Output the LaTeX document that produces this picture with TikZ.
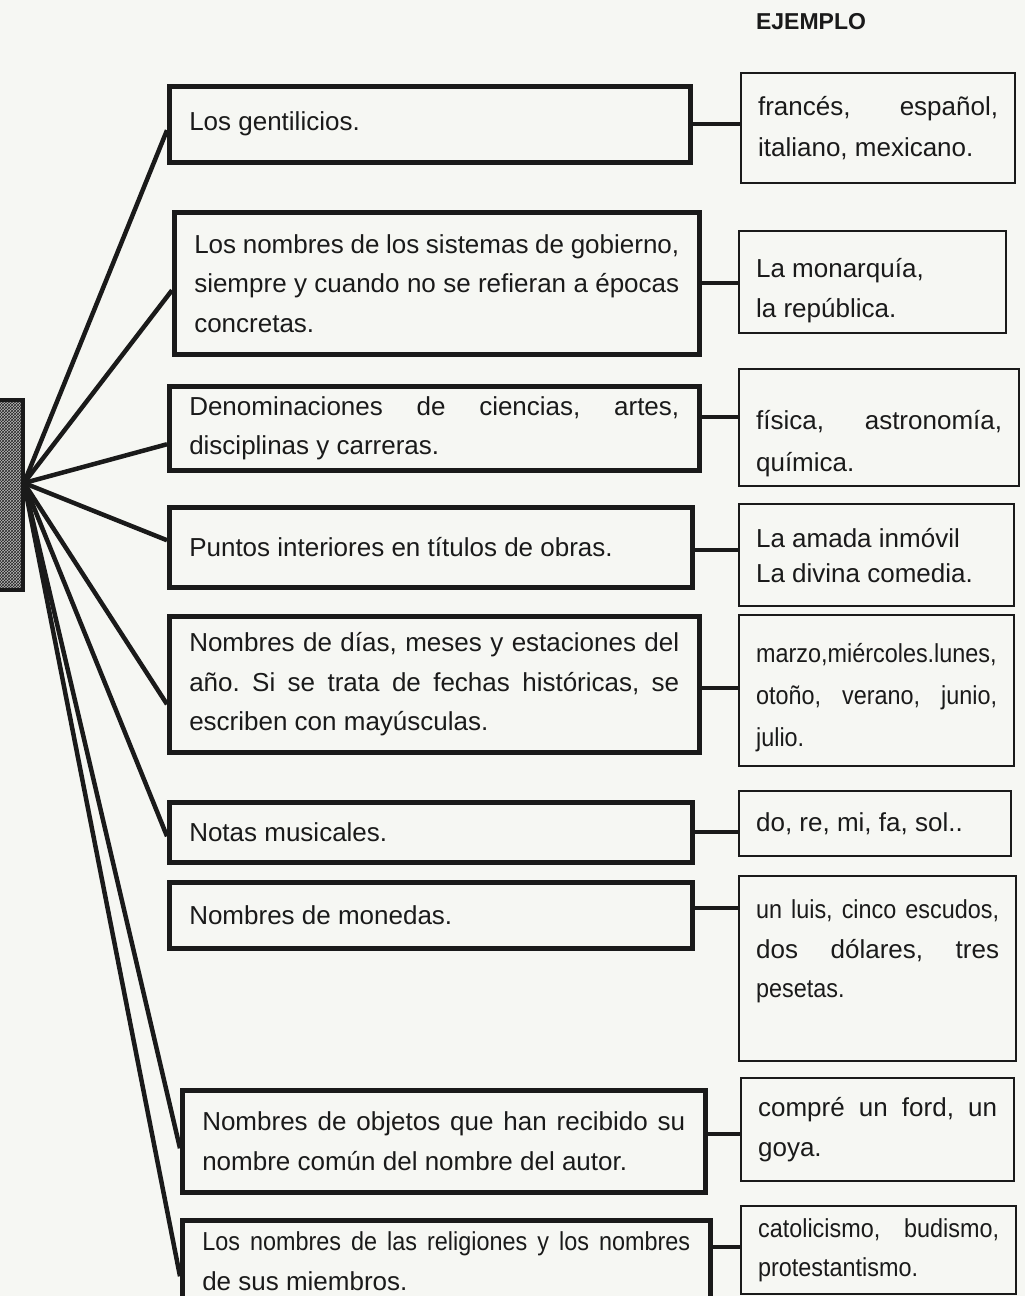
\documentclass[tikz,border=0pt]{standalone}
\usepackage{fontspec}
\setmainfont{Liberation Sans}
\newfontfamily\tightfont[FakeStretch=0.9]{Liberation Sans}
\usepackage{xcolor}
\usetikzlibrary{patterns}
\definecolor{paper}{RGB}{246,247,243}
\definecolor{ink}{RGB}{26,26,26}
\newcommand{\padtop}[1]{\rule{0pt}{#1}}
\frenchspacing

\begin{document}
\begin{tikzpicture}[
    x=1pt, y=-1pt,
    rulenode/.style={draw=ink, line width=4.5pt, anchor=north west, inner xsep=20pt, inner ysep=0pt, align=justify, text=ink, font=\fontsize{26}{39.5}\selectfont},
    exnode/.style={draw=ink, line width=2.2pt, anchor=north west, inner xsep=17pt, inner ysep=0pt, align=justify, text=ink, font=\fontsize{26}{39.5}\selectfont},
    spoke/.style={draw=ink, line width=4.5pt},
    linkline/.style={draw=ink, line width=4pt}
]
    \useasboundingbox (0,0) rectangle (1025,1296);
    \fill[paper] (0,0) rectangle (1025,1296);
    \clip (0,0) rectangle (1025,1296);

    \draw[ink, line width=4.5pt, preaction={fill=gray!55}, pattern=crosshatch, pattern color=gray!30!black] (-10,400) rectangle (23,590);
    \coordinate (hub) at (24,483);

    \node[font=\bfseries\fontsize{23}{23}\selectfont, text=ink] (ejemplo) at (811,22) {EJEMPLO};

    \node[rulenode, text width=481pt, minimum height=76pt] (l1) at (167,84) {Los gentilicios.};
    \node[rulenode, text width=485pt, minimum height=142pt] (l2) at (172,210) {Los nombres de los sistemas de gobierno,\linebreak siempre y cuando no se refieran a épocas\linebreak concretas.};
    \node[rulenode, text width=490pt, minimum height=84pt] (l3) at (167,384) {Denominaciones de ciencias, artes,\linebreak disciplinas y carreras.};
    \node[rulenode, text width=483pt, minimum height=80pt] (l4) at (167,505) {Puntos interiores en títulos de obras.};
    \node[rulenode, text width=490pt, minimum height=136pt] (l5) at (167,614) {Nombres de días, meses y estaciones del\linebreak año. Si se trata de fechas históricas, se\linebreak escriben con mayúsculas.};
    \node[rulenode, text width=483pt, minimum height=60pt] (l6) at (167,800) {Notas musicales.};
    \node[rulenode, text width=483pt, minimum height=66pt] (l7) at (167,880) {Nombres de monedas.};
    \node[rulenode, text width=483pt, minimum height=102pt] (l8) at (180,1088) {Nombres de objetos que han recibido su\linebreak nombre común del nombre del autor.};
    \node[rulenode, text width=488pt, minimum height=82pt] (l9) at (180,1218) {{\tightfont Los nombres de las religiones y los nombres}\linebreak de sus miembros.};

    \node[exnode, text width=240pt, minimum height=110pt, font=\fontsize{26}{41}\selectfont] (r1) at (740,72) {francés, español,\linebreak italiano, mexicano.};
    \node[exnode, text width=233pt, minimum height=102pt] (r2) at (738,230) {\padtop{36pt}La monarquía,\newline la república.};
    \node[exnode, text width=246pt, minimum height=117pt, font=\fontsize{26}{42}\selectfont] (r3) at (738,368) {\padtop{52pt}física, astronomía,\linebreak química.};
    \node[exnode, text width=241pt, minimum height=102pt, font=\fontsize{26}{35}\selectfont] (r4) at (738,503) {La amada inmóvil\newline La divina comedia.};
    \node[exnode, text width=241pt, minimum height=151pt, font=\fontsize{26}{42}\selectfont] (r5) at (738,614) {\tightfont\padtop{34pt}marzo,miércoles.lunes,\linebreak otoño, verano, junio,\linebreak julio.};
    \node[exnode, text width=238pt, minimum height=65pt] (r6) at (738,790) {do, re, mi, fa, sol..};
    \node[exnode, text width=243pt, minimum height=185pt] (r7) at (738,875) {{\tightfont un luis, cinco escudos,}\linebreak dos dólares, tres\linebreak {\tightfont pesetas.}\newline\mbox{}};
    \node[exnode, text width=239pt, minimum height=103pt] (r8) at (740,1077) {compré un ford, un\linebreak goya.};
    \node[exnode, text width=241pt, minimum height=88pt] (r9) at (740,1205) {\tightfont catolicismo, budismo,\linebreak protestantismo.};

    \foreach \b/\s in {l1/-6, l2/-7, l3/-16, l4/7, l5/-20, l6/-4, l8/-7, l9/-15}
        \draw[spoke] (hub) -- ([yshift=\s pt]\b.west);

    \foreach \a/\b/\s in {l1/r1/0, l2/r2/0, l3/r3/11, l4/r4/-3, l5/r5/-4, l6/r6/0, l7/r7/7, l8/r8/7, l9/r9/14}
        \draw[linkline] ([yshift=\s pt]\a.east) coordinate (tmp) -- (tmp -| \b.west);
\end{tikzpicture}
\end{document}
